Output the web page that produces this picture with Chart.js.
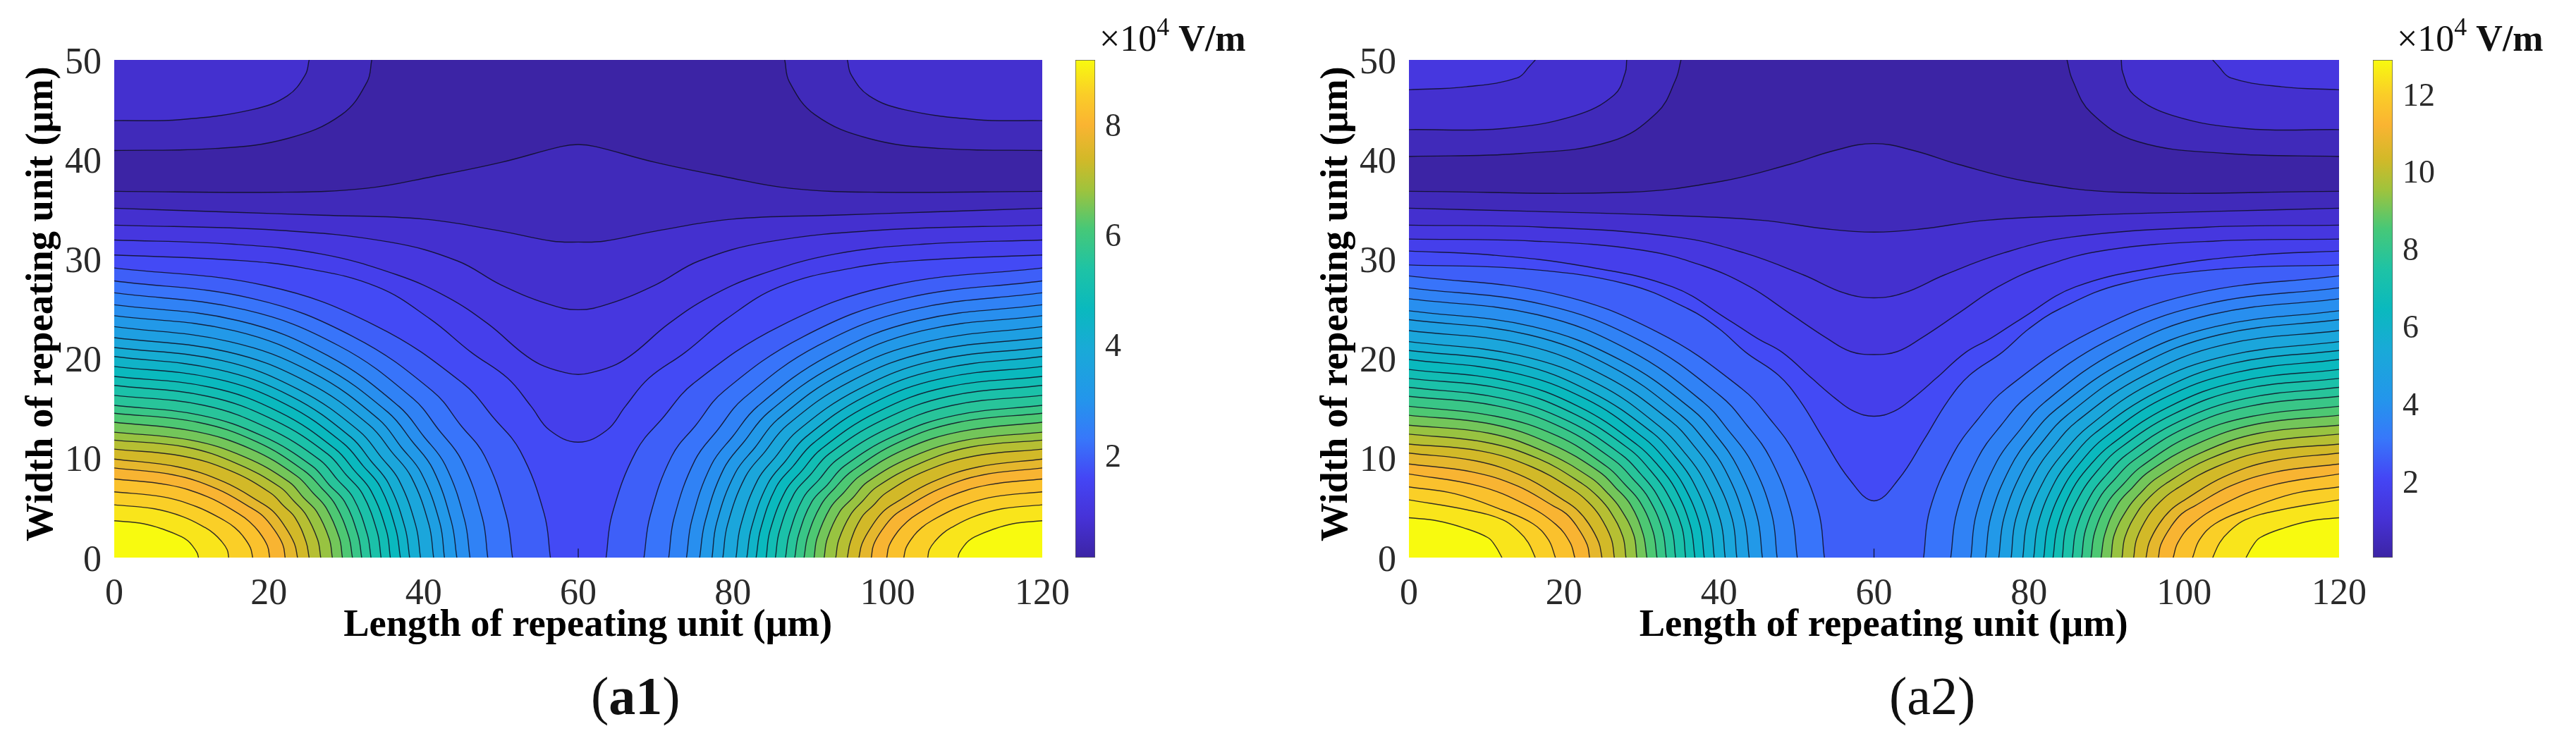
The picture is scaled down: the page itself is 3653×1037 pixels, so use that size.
<!DOCTYPE html>
<html>
<head>
<meta charset="utf-8">
<title>Contour charts a1 and a2</title>
<script src="https://cdn.jsdelivr.net/npm/chart.js@4"></script>
<style>
    html, body { margin: 0; padding: 0; background: #fff; }
    #page { position: relative; width: 3653px; height: 1037px; overflow: hidden; font-family: "Liberation Serif", serif; color: #111; }
    canvas { position: absolute; top: 0; }
    .unit { position: absolute; top: 20px; font-size: 52px; line-height: 70px; white-space: nowrap; }
    .unit sup { font-size: 36px; line-height: 0; vertical-align: 22px; }
    .unit b { font-weight: bold; }
    .caption { position: absolute; top: 944px; font-size: 76px; line-height: 86px; white-space: nowrap; }
</style>
</head>
<body>
<div id="page">
    <canvas id="chartA1" width="1600" height="1037" style="left:0"></canvas>
    <canvas id="barA1" width="160" height="1037" style="left:1525px"></canvas>
    <canvas id="chartA2" width="1600" height="1037" style="left:1836px"></canvas>
    <canvas id="barA2" width="160" height="1037" style="left:3365px"></canvas>
    <div class="unit" style="left:1559px">×10<sup>4</sup> <b>V/m</b></div>
    <div class="unit" style="left:3399px">×10<sup>4</sup> <b>V/m</b></div>
    <div class="caption" style="left:838px">(<b>a1</b>)</div>
    <div class="caption" style="left:2679px">(a2)</div>
</div>
<script>
const xTicks = [0, 20, 40, 60, 80, 100, 120];
const yTicks = [0, 10, 20, 30, 40, 50];
const plotTopX = [0, 120];
const plotTopY = [50, 50];
const centerTickX = [60, 60];
const centerTickY = [0, 0.9];

// a1: colour bar
const a1BarRange = [0.15, 9.19];
const a1BarTicks = [2, 4, 6, 8];

// a1: contours that cross the whole width, lowest level first
const a1ValleyX = [
    [0, 21, 32.6, 41.3, 50, 57.8, 60, 62.2, 70, 78.7, 87.4, 99, 120],
    [0, 15.2, 26.8, 40.1, 50, 56.6, 60, 63.4, 70, 79.9, 93.2, 104.8, 120],
    [0, 21, 35.6, 44.4, 50, 56, 60, 64, 70, 75.6, 84.4, 99, 120],
    [0, 15.2, 26.8, 36.6, 43, 48.3, 52.7, 55.1, 58.2, 60, 61.8, 64.9, 67.3, 71.7, 77, 83.4, 93.2, 104.8, 120],
    [0, 15.2, 24.5, 34, 40.8, 46.2, 50.9, 53.9, 56.3, 60, 63.7, 66.1, 69.1, 73.8, 79.2, 86, 95.5, 104.8, 120],
];
const a1ValleyY = [
    [36.8, 36.7, 37.1, 38.3, 39.7, 41.3, 41.5, 41.3, 39.7, 38.3, 37.1, 36.7, 36.8],
    [35.1, 34.7, 34.4, 34, 32.8, 31.8, 31.7, 31.8, 32.8, 34, 34.4, 34.7, 35.1],
    [33.4, 32.9, 31.7, 29.8, 27.4, 25.5, 24.9, 25.5, 27.4, 29.8, 31.7, 32.9, 33.4],
    [31.9, 31.5, 30.5, 28.4, 26.2, 23.5, 20.6, 19.4, 18.6, 18.4, 18.6, 19.4, 20.6, 23.5, 26.2, 28.4, 30.5, 31.5, 31.9],
    [30.4, 29.9, 29.1, 27.2, 24, 20.6, 18, 15.2, 12.8, 11.6, 12.8, 15.2, 18, 20.6, 24, 27.2, 29.1, 29.9, 30.4],
];

// a1: lobes hanging from the top corners
const a1TopLeftX = [
    [0, 13.1, 22.4, 29.4, 32.7, 33.3],
    [0, 8.5, 17.8, 22.4, 24.7, 25.2],
];
const a1TopRightX = [
    [120, 106.9, 97.6, 90.6, 87.3, 86.7],
    [120, 111.5, 102.2, 97.6, 95.3, 94.8],
];
const a1TopY = [
    [40.9, 41.1, 42.1, 44.5, 47.8, 50],
    [43.9, 44, 45, 46.4, 48.5, 50],
];

// a1: lobes in the bottom corners, innermost (highest level) first
const a1LobeLeftX = [
    [0, 3.8, 6.5, 8.7, 9.5, 10.1, 10.7, 10.9],
    [0, 5.2, 8.9, 11.8, 12.9, 13.8, 14.6, 14.8],
    [0, 6.3, 10.7, 14.3, 15.6, 16.6, 17.6, 17.9],
    [0, 7, 12.1, 16.1, 17.5, 18.7, 19.8, 20.1],
    [0, 7.7, 13.3, 17.7, 19.2, 20.6, 21.8, 22.1],
    [0, 8.3, 14.2, 19, 20.6, 22, 23.3, 23.7],
    [0, 8.8, 15.1, 20.2, 21.9, 23.4, 24.8, 25.2],
    [0, 9.3, 16, 21.4, 23.2, 24.8, 26.3, 26.7],
    [0, 9.9, 16.9, 22.6, 24.5, 26.2, 27.8, 28.2],
    [0, 10.3, 17.7, 23.6, 25.7, 27.4, 29.1, 29.5],
    [0, 10.8, 18.5, 24.6, 26.8, 28.6, 30.3, 30.8],
    [0, 11.2, 19.2, 25.6, 27.8, 29.8, 31.5, 32],
    [0, 11.6, 19.9, 26.6, 28.9, 30.9, 32.7, 33.2],
    [0, 12.1, 20.7, 27.6, 30, 32.1, 34, 34.5],
    [0, 12.5, 21.4, 28.6, 31.1, 33.2, 35.2, 35.7],
    [0, 13, 22.2, 29.6, 32.2, 34.4, 36.4, 37],
    [0, 13.4, 22.9, 30.6, 33.2, 35.5, 37.6, 38.2],
    [0, 13.9, 23.8, 31.7, 34.5, 36.8, 39, 39.6],
    [0, 14.5, 24.8, 33, 35.9, 38.4, 40.7, 41.3],
    [0, 14.9, 25.6, 34.2, 37.1, 39.7, 42.1, 42.7],
    [0, 15.5, 26.6, 35.4, 38.5, 41.2, 43.6, 44.3],
    [0, 16.1, 27.6, 36.8, 40, 42.8, 45.3, 46],
    [0, 16.9, 29, 38.6, 42, 44.9, 47.6, 48.3],
    [0, 18, 30.9, 41.2, 44.8, 47.9, 50.7, 51.5],
    [0, 19.7, 33.8, 45.1, 49.1, 52.5, 55.6, 56.4],
];
const a1LobeRightX = [
    [120, 116.2, 113.5, 111.3, 110.5, 109.9, 109.3, 109.1],
    [120, 114.8, 111.1, 108.2, 107.1, 106.2, 105.4, 105.2],
    [120, 113.7, 109.3, 105.7, 104.4, 103.4, 102.4, 102.1],
    [120, 113, 107.9, 103.9, 102.5, 101.3, 100.2, 99.9],
    [120, 112.3, 106.7, 102.3, 100.8, 99.4, 98.2, 97.9],
    [120, 111.7, 105.8, 101, 99.4, 98, 96.7, 96.3],
    [120, 111.2, 104.9, 99.8, 98.1, 96.6, 95.2, 94.8],
    [120, 110.7, 104, 98.6, 96.8, 95.2, 93.7, 93.3],
    [120, 110.1, 103.1, 97.4, 95.5, 93.8, 92.2, 91.8],
    [120, 109.7, 102.3, 96.4, 94.3, 92.6, 90.9, 90.5],
    [120, 109.2, 101.5, 95.4, 93.2, 91.4, 89.7, 89.2],
    [120, 108.8, 100.8, 94.4, 92.2, 90.2, 88.5, 88],
    [120, 108.4, 100.1, 93.4, 91.1, 89.1, 87.3, 86.8],
    [120, 107.9, 99.3, 92.4, 90, 87.9, 86, 85.5],
    [120, 107.5, 98.6, 91.4, 88.9, 86.8, 84.8, 84.3],
    [120, 107, 97.8, 90.4, 87.8, 85.6, 83.6, 83],
    [120, 106.6, 97.1, 89.4, 86.8, 84.5, 82.4, 81.8],
    [120, 106.1, 96.2, 88.3, 85.5, 83.2, 81, 80.4],
    [120, 105.5, 95.2, 87, 84.1, 81.6, 79.3, 78.7],
    [120, 105.1, 94.4, 85.8, 82.9, 80.3, 77.9, 77.3],
    [120, 104.5, 93.4, 84.6, 81.5, 78.8, 76.4, 75.7],
    [120, 103.9, 92.4, 83.2, 80, 77.2, 74.7, 74],
    [120, 103.1, 91, 81.4, 78, 75.1, 72.4, 71.7],
    [120, 102, 89.1, 78.8, 75.2, 72.1, 69.3, 68.5],
    [120, 100.3, 86.2, 74.9, 70.9, 67.5, 64.4, 63.6],
];
const a1LobeY = [
    [3.7, 3.4, 2.8, 2.1, 1.7, 1.2, 0.5, 0],
    [5.3, 4.9, 4.1, 3, 2.4, 1.7, 0.8, 0],
    [6.6, 6.1, 5.1, 3.7, 3, 2.2, 1, 0],
    [7.9, 7.3, 6.1, 4.4, 3.6, 2.6, 1.2, 0],
    [9, 8.3, 6.9, 5, 4.2, 2.9, 1.3, 0],
    [9.9, 9.1, 7.6, 5.5, 4.6, 3.2, 1.4, 0],
    [10.9, 10.2, 8.7, 6.5, 5.2, 4, 1.6, 0],
    [11.8, 11.1, 9.4, 7.1, 5.7, 4.3, 1.8, 0],
    [12.6, 11.8, 10.1, 7.6, 6, 4.6, 1.9, 0],
    [13.6, 12.7, 10.9, 8.2, 6.5, 5, 2, 0],
    [14.5, 13.6, 11.6, 8.7, 7, 5.3, 2.2, 0],
    [15.3, 14.3, 12.2, 9.2, 7.3, 5.6, 2.3, 0],
    [16.3, 15.3, 13, 9.8, 7.8, 6, 2.4, 0],
    [17.3, 16.2, 13.8, 10.4, 8.3, 6.4, 2.6, 0],
    [18.2, 17.1, 14.6, 10.9, 8.7, 6.7, 2.7, 0],
    [19.2, 18, 15.4, 11.5, 9.2, 7.1, 2.9, 0],
    [20.2, 18.9, 16.2, 12.1, 9.7, 7.4, 3, 0],
    [21.1, 19.8, 16.9, 12.7, 10.1, 7.8, 3.2, 0],
    [22.1, 20.7, 17.7, 13.3, 10.6, 8.1, 3.3, 0],
    [23.2, 21.7, 18.6, 13.9, 11.1, 8.5, 3.5, 0],
    [24.3, 22.8, 19.4, 14.6, 11.7, 8.9, 3.6, 0],
    [25.4, 23.8, 20.3, 15.2, 12.2, 9.3, 3.8, 0],
    [26.6, 24.9, 21.3, 16, 12.8, 9.8, 4, 0],
    [27.8, 26, 22.2, 16.7, 13.3, 10.2, 4.2, 0],
    [29.1, 27.3, 23.3, 17.5, 14, 10.7, 4.4, 0],
];

// a2: colour bar
const a2BarRange = [0.05, 12.9];
const a2BarTicks = [2, 4, 6, 8, 10, 12];

const a2ValleyX = [
    [0, 28.1, 40.3, 49.1, 54.9, 60, 65.1, 70.9, 79.7, 91.9, 120],
    [0, 15.2, 32.6, 45.4, 54.1, 60, 65.9, 74.6, 87.4, 104.8, 120],
    [0, 17.1, 34.6, 43.3, 50.9, 56.1, 60, 63.9, 69.1, 76.7, 85.4, 102.9, 120],
    [0, 16, 30, 38, 44, 49, 54, 57, 60, 63, 66, 71, 76, 82, 90, 104, 120],
    [0, 10.7, 22.4, 34, 41.2, 45, 48.2, 52, 55, 57.4, 60, 62.6, 65, 68, 71.8, 75, 78.8, 86, 97.6, 109.3, 120],
    [0, 15, 28, 36, 40, 43.5, 47.7, 50.5, 53.5, 56.8, 60, 63.2, 66.5, 69.5, 72.3, 76.5, 80, 84, 92, 105, 120],
];
const a2ValleyY = [
    [36.8, 36.7, 37.8, 39.5, 40.9, 41.6, 40.9, 39.5, 37.8, 36.7, 36.8],
    [35.1, 34.8, 34.4, 33.9, 33, 32.7, 33, 33.9, 34.4, 34.8, 35.1],
    [33.4, 33.2, 32.2, 30.6, 28.4, 26.6, 26.1, 26.6, 28.4, 30.6, 32.2, 33.2, 33.4],
    [32, 31.8, 30.9, 29.3, 27.2, 24.6, 22, 20.7, 20.4, 20.7, 22, 24.6, 27.2, 29.3, 30.9, 31.8, 32],
    [30.8, 30.4, 29.3, 27.2, 23.9, 22, 20.6, 18, 16, 14.7, 14.2, 14.7, 16, 18, 20.6, 22, 23.9, 27.2, 29.3, 30.4, 30.8],
    [29.4, 29, 27.5, 25, 23, 20.6, 18.3, 15.7, 11.9, 7.9, 5.7, 7.9, 11.9, 15.7, 18.3, 20.6, 23, 25, 27.5, 29, 29.4],
];

const a2TopLeftX = [
    [0, 14.4, 26, 32, 34.4, 35.1],
    [0, 12, 21.4, 26.5, 27.9, 28.1],
    [0, 7.4, 14, 15.6, 16.3],
];
const a2TopRightX = [
    [120, 105.6, 94, 88, 85.6, 84.9],
    [120, 108, 98.6, 93.5, 92.1, 91.9],
    [120, 112.6, 106, 104.4, 103.7],
];
const a2TopY = [
    [40.3, 40.6, 41.8, 44.7, 48, 50],
    [43, 43.1, 44.4, 46.5, 48.7, 50],
    [47, 47.3, 48.2, 49.4, 50],
];

const a2LobeLeftX = [
    [0, 3.6, 7, 10.2, 11.2, 12],
    [0, 7.5, 12.1, 14.2, 15.4, 16.3],
    [0, 6, 12, 16, 18, 18.9],
    [0, 9, 15.1, 19, 20.8, 21.4],
    [0, 8.2, 14, 18.6, 20.3, 21.7, 23, 23.3],
    [0, 8.7, 14.9, 19.9, 21.7, 23.2, 24.5, 24.9],
    [0, 9.3, 15.9, 21.2, 23.1, 24.6, 26.1, 26.5],
    [0, 9.8, 16.8, 22.4, 24.4, 26, 27.6, 28],
    [0, 10.3, 17.6, 23.5, 25.6, 27.3, 29, 29.4],
    [0, 10.7, 18.4, 24.6, 26.7, 28.6, 30.2, 30.7],
    [0, 11.2, 19.2, 25.6, 27.8, 29.8, 31.5, 32],
    [0, 11.6, 19.9, 26.6, 28.9, 30.9, 32.7, 33.2],
    [0, 12, 20.6, 27.5, 29.9, 32, 33.9, 34.4],
    [0, 12.5, 21.4, 28.6, 31.1, 33.2, 35.2, 35.7],
    [0, 12.9, 22.1, 29.5, 32.1, 34.3, 36.3, 36.9],
    [0, 13.3, 22.9, 30.5, 33.1, 35.4, 37.5, 38.1],
    [0, 13.8, 23.6, 31.5, 34.3, 36.6, 38.8, 39.4],
    [0, 14.3, 24.5, 32.6, 35.5, 37.9, 40.2, 40.8],
    [0, 14.8, 25.4, 33.8, 36.8, 39.3, 41.7, 42.3],
    [0, 15.4, 26.3, 35.1, 38.2, 40.8, 43.2, 43.9],
    [0, 16, 27.4, 36.5, 39.7, 42.4, 44.9, 45.6],
    [0, 16.6, 28.5, 38, 41.3, 44.2, 46.8, 47.5],
    [0, 17.5, 30.1, 40.1, 43.6, 46.6, 49.3, 50.1],
    [0, 18.8, 32.2, 42.9, 46.6, 49.8, 52.8, 53.6],
];
const a2LobeRightX = [
    [120, 116.4, 113, 109.8, 108.8, 108],
    [120, 112.5, 107.9, 105.8, 104.6, 103.7],
    [120, 114, 108, 104, 102, 101.1],
    [120, 111, 104.9, 101, 99.2, 98.6],
    [120, 111.8, 106, 101.4, 99.7, 98.3, 97, 96.7],
    [120, 111.3, 105.1, 100.1, 98.3, 96.8, 95.5, 95.1],
    [120, 110.7, 104.1, 98.8, 96.9, 95.4, 93.9, 93.5],
    [120, 110.2, 103.2, 97.6, 95.6, 94, 92.4, 92],
    [120, 109.7, 102.4, 96.5, 94.4, 92.7, 91, 90.6],
    [120, 109.3, 101.6, 95.4, 93.3, 91.4, 89.8, 89.3],
    [120, 108.8, 100.8, 94.4, 92.2, 90.2, 88.5, 88],
    [120, 108.4, 100.1, 93.4, 91.1, 89.1, 87.3, 86.8],
    [120, 108, 99.4, 92.5, 90.1, 88, 86.1, 85.6],
    [120, 107.5, 98.6, 91.4, 88.9, 86.8, 84.8, 84.3],
    [120, 107.1, 97.9, 90.5, 87.9, 85.7, 83.7, 83.1],
    [120, 106.7, 97.1, 89.5, 86.9, 84.6, 82.5, 81.9],
    [120, 106.2, 96.4, 88.5, 85.7, 83.4, 81.2, 80.6],
    [120, 105.7, 95.5, 87.4, 84.5, 82.1, 79.8, 79.2],
    [120, 105.2, 94.6, 86.2, 83.2, 80.7, 78.3, 77.7],
    [120, 104.6, 93.7, 84.9, 81.8, 79.2, 76.8, 76.1],
    [120, 104, 92.6, 83.5, 80.3, 77.6, 75.1, 74.4],
    [120, 103.4, 91.5, 82, 78.7, 75.8, 73.2, 72.5],
    [120, 102.5, 89.9, 79.9, 76.4, 73.4, 70.7, 69.9],
    [120, 101.2, 87.8, 77.1, 73.4, 70.2, 67.2, 66.4],
];
const a2LobeY = [
    [4, 3.7, 3, 2, 1.1, 0],
    [5.8, 4.8, 3.8, 2.6, 1.5, 0],
    [7.1, 6.4, 4.8, 3.4, 1.8, 0],
    [8.4, 7.2, 5.3, 3.3, 1.5, 0],
    [9.4, 8.6, 7.2, 5.2, 4.4, 3.1, 1.3, 0],
    [10.5, 9.7, 8.1, 5.8, 4.8, 3.4, 1.5, 0],
    [11.4, 10.7, 9.1, 6.8, 5.6, 4.2, 1.9, 0],
    [12.4, 11.6, 9.9, 7.4, 6.1, 4.6, 2.1, 0],
    [13.3, 12.5, 10.6, 8, 6.5, 4.9, 2.3, 0],
    [14.3, 13.4, 11.4, 8.6, 7, 5.3, 2.4, 0],
    [15.2, 14.2, 12.2, 9.1, 7.4, 5.6, 2.6, 0],
    [16.2, 15.2, 13, 9.7, 7.9, 6, 2.8, 0],
    [17.1, 16, 13.7, 10.3, 8.4, 6.3, 2.9, 0],
    [18, 16.9, 14.4, 10.8, 8.8, 6.6, 3.1, 0],
    [18.9, 17.7, 15.1, 11.3, 9.3, 7, 3.2, 0],
    [19.9, 18.6, 15.9, 11.9, 9.8, 7.3, 3.4, 0],
    [20.8, 19.5, 16.6, 12.5, 10.2, 7.7, 3.5, 0],
    [21.7, 20.3, 17.4, 13, 10.6, 8, 3.7, 0],
    [22.8, 21.4, 18.2, 13.7, 11.2, 8.4, 3.9, 0],
    [23.9, 22.4, 19.1, 14.3, 11.7, 8.8, 4.1, 0],
    [24.8, 23.2, 19.8, 14.9, 12.2, 9.1, 4.2, 0],
    [26, 24.4, 20.8, 15.6, 12.7, 9.6, 4.4, 0],
    [27.1, 25.4, 21.7, 16.3, 13.3, 10, 4.6, 0],
    [28.3, 26.5, 22.6, 17, 13.9, 10.4, 4.8, 0],
];

// colour map, sampled off the colour bars
const mapStops = [
    [0, 60, 36, 165], [0.08, 70, 50, 215], [0.16, 68, 70, 245], [0.24, 55, 120, 250],
    [0.32, 35, 150, 235], [0.42, 25, 170, 215], [0.5, 10, 185, 190], [0.58, 30, 195, 165],
    [0.66, 70, 200, 120], [0.74, 160, 195, 60], [0.8, 210, 185, 40], [0.87, 250, 180, 50],
    [0.93, 250, 205, 40], [1, 248, 250, 15],
];
const BAND_COUNT = 30;
const LINE_COLOR = "rgba(15,15,35,0.85)";
const TICK_COLOR = "#2a2a2a";
const SERIF = "'Liberation Serif', serif";

function bandColor(band) {
    const t = band / BAND_COUNT;
    for (let i = 1; i < mapStops.length; i++) {
        if (t <= mapStops[i][0]) {
            const a = mapStops[i - 1];
            const b = mapStops[i];
            const f = (t - a[0]) / (b[0] - a[0]);
            return `rgb(${Math.round(a[1] + (b[1] - a[1]) * f)},${Math.round(a[2] + (b[2] - a[2]) * f)},${Math.round(a[3] + (b[3] - a[3]) * f)})`;
        }
    }
    return "rgb(248,250,15)";
}

function contour(xs, ys, band, fill) {
    const points = xs.map((x, i) => ({ x: x, y: ys[i] }));
    if (xs[0] > xs[xs.length - 1]) points.reverse();
    return {
        data: points,
        fill: fill,
        backgroundColor: band === null ? "transparent" : bandColor(band),
        borderColor: LINE_COLOR,
        borderWidth: 1.4,
        pointRadius: 0,
        tension: 0.4,
    };
}

function generateContourChart(id, plotRight, d) {
    const layers = [];
    // lowest band is the plot background
    layers.push({ ...contour(plotTopX, plotTopY, 0, "start"), borderWidth: 0 });

    let band = 1;
    d.valleyX.forEach((xs, i) => {
        layers.push(contour(xs, d.valleyY[i], band, "start"));
        if (d.topY[i]) {
            layers.push(contour(d.topLeftX[i], d.topY[i], band, "end"));
            layers.push(contour(d.topRightX[i], d.topY[i], band, "end"));
        }
        band++;
    });
    for (let i = d.lobeY.length - 1; i >= 0; i--) {
        layers.push(contour(d.lobeLeftX[i], d.lobeY[i], band, "start"));
        layers.push(contour(d.lobeRightX[i], d.lobeY[i], band, "start"));
        band++;
    }
    layers.push(contour(centerTickX, centerTickY, null, false));

    // chart.js paints the first dataset last
    layers.reverse();

    new Chart(document.getElementById(id), {
        type: "line",
        data: { datasets: layers },
        options: {
            responsive: false,
            animation: false,
            layout: { padding: { top: 85, right: 1600 - plotRight, bottom: 1037 - 791 - 124, left: 0 } },
            plugins: { legend: { display: false }, tooltip: { enabled: false } },
            scales: {
                x: {
                    type: "linear",
                    min: 0,
                    max: 120,
                    grid: { display: false },
                    border: { display: false },
                    afterBuildTicks: (s) => { s.ticks = xTicks.map((v) => ({ value: v })); },
                    afterFit: (s) => { s.height = 124; },
                    ticks: { color: TICK_COLOR, padding: 18, maxRotation: 0, font: { family: SERIF, size: 52, lineHeight: 1 } },
                    title: {
                        display: true,
                        text: "\u00a0\u00a0Length of repeating unit (μm)",
                        color: "#000",
                        padding: 0,
                        font: { family: SERIF, size: 54.5, weight: "bold", lineHeight: 1 },
                    },
                },
                y: {
                    type: "linear",
                    min: 0,
                    max: 50,
                    grid: { display: false },
                    border: { display: false },
                    afterBuildTicks: (s) => { s.ticks = yTicks.map((v) => ({ value: v })); },
                    afterFit: (s) => { s.width = 162; },
                    ticks: { color: TICK_COLOR, padding: 10, labelOffset: 5, font: { family: SERIF, size: 52, lineHeight: 1 } },
                    title: {
                        display: true,
                        text: "\u00a0Width of repeating unit (μm)",
                        color: "#000",
                        padding: { top: 33, bottom: 0 },
                        font: { family: SERIF, size: 54.5, weight: "bold", lineHeight: 1 },
                    },
                },
            },
        },
    });
}

function generateColorBar(id, range, ticks) {
    new Chart(document.getElementById(id), {
        type: "bar",
        data: {
            labels: [""],
            datasets: [{
                data: [range],
                barPercentage: 1,
                categoryPercentage: 1,
                borderWidth: 1,
                borderColor: "#555",
                borderSkipped: false,
                backgroundColor: (context) => {
                    const area = context.chart.chartArea;
                    if (!area) return "#000";
                    const gradient = context.chart.ctx.createLinearGradient(0, area.bottom, 0, area.top);
                    mapStops.forEach((s) => gradient.addColorStop(s[0], `rgb(${s[1]},${s[2]},${s[3]})`));
                    return gradient;
                },
            }],
        },
        options: {
            responsive: false,
            animation: false,
            layout: { padding: { top: 85, right: 0, bottom: 1037 - 791, left: 0 } },
            plugins: { legend: { display: false }, tooltip: { enabled: false } },
            scales: {
                x: { display: false },
                y: {
                    position: "right",
                    min: range[0],
                    max: range[1],
                    border: { display: false },
                    grid: { drawOnChartArea: false, tickLength: -4, tickColor: "#444" },
                    afterBuildTicks: (s) => { s.ticks = ticks.map((v) => ({ value: v })); },
                    afterFit: (s) => { s.width = 132; },
                    ticks: { color: TICK_COLOR, padding: 18, labelOffset: 3, font: { family: SERIF, size: 46, lineHeight: 1 } },
                },
            },
        },
    });
}

generateContourChart("chartA1", 1478, {
    valleyX: a1ValleyX, valleyY: a1ValleyY,
    topLeftX: a1TopLeftX, topRightX: a1TopRightX, topY: a1TopY,
    lobeLeftX: a1LobeLeftX, lobeRightX: a1LobeRightX, lobeY: a1LobeY,
});
generateContourChart("chartA2", 3317 - 1836, {
    valleyX: a2ValleyX, valleyY: a2ValleyY,
    topLeftX: a2TopLeftX, topRightX: a2TopRightX, topY: a2TopY,
    lobeLeftX: a2LobeLeftX, lobeRightX: a2LobeRightX, lobeY: a2LobeY,
});
generateColorBar("barA1", a1BarRange, a1BarTicks);
generateColorBar("barA2", a2BarRange, a2BarTicks);
</script>
</body>
</html>
